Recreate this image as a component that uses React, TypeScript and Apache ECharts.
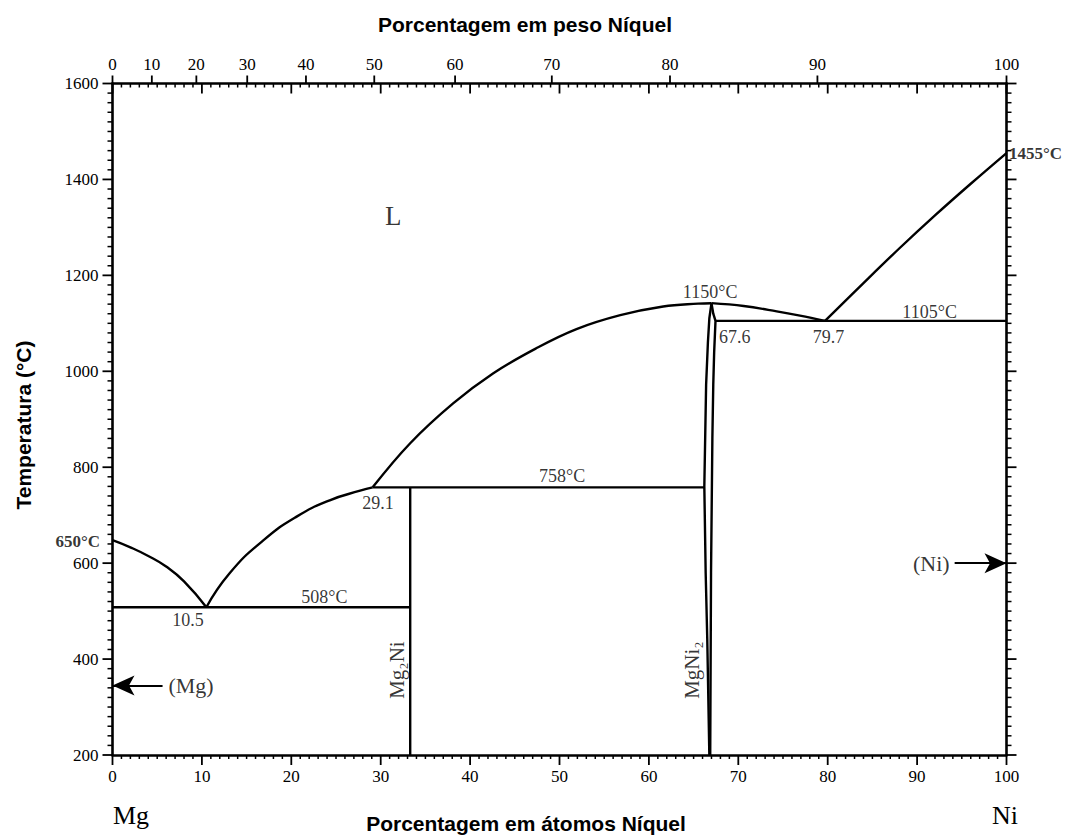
import React, { useEffect, useRef } from 'react';
import * as echarts from 'echarts';

// ---- Data (atomic % Ni, temperature °C) ----
const liquidusMg = [[0, 648], [2, 633], [4, 615], [6, 593], [8, 562], [10.5, 508]];
const liquidusMg2Ni = [[10.5, 508], [13.1, 579], [16.9, 648], [20.6, 697], [24.3, 731], [27.7, 751], [29.1, 758]];
const liquidusMgNi2Left = [[29.1, 758], [33.3, 850], [38.1, 933], [42.6, 996], [47.4, 1048], [51.9, 1088], [56.8, 1117], [61.6, 1135], [65.5, 1141], [67.0, 1142]];
const liquidusMgNi2Right = [[67.0, 1142], [70.6, 1136], [74.3, 1125], [76.9, 1116], [79.7, 1105]];
const liquidusNi = [[79.7, 1105], [84, 1184], [88, 1256], [92, 1325], [96, 1391], [100, 1455]];
const eutectic508 = [[0, 508], [33.3, 508]];
const eutectic758 = [[29.1, 758], [66.2, 758]];
const eutectic1105 = [[67.45, 1105], [100, 1105]];
const mg2niLine = [[33.3, 200], [33.3, 758]];
const mgni2Left = [[67.0, 1142], [66.76, 1110], [66.6, 1060], [66.4, 972], [66.2, 760], [66.35, 580], [66.53, 440], [66.76, 200]];
const mgni2Right = [[67.0, 1142], [67.2, 1120], [67.45, 1105], [67.3, 1040], [67.2, 972], [67.1, 860], [66.95, 580], [66.86, 200]];

// bottom axis: atomic % Ni; left axis: temperature
const atomicMajorTicks = [0, 10, 20, 30, 40, 50, 60, 70, 80, 90, 100];
const tempMajorTicks = [200, 400, 600, 800, 1000, 1200, 1400, 1600];

// top axis: weight % Ni labels, placed at their atomic % equivalents
const weightTickLabels = ['0', '10', '20', '30', '40', '50', '60', '70', '80', '90', '100'];
const weightTickAtPct = [0, 4.4, 9.38, 15.07, 21.64, 29.28, 38.32, 49.14, 62.36, 78.85, 100];

// in-plot annotations
const annotationTexts = ['L', '508°C', '10.5', '29.1', '758°C', '1150°C', '67.6', '79.7', '1105°C'];
const annotationX = [31.4, 23.7, 8.45, 29.7, 50.3, 66.85, 69.6, 80.1, 91.4];
const annotationT = [1324, 529, 482, 725, 782, 1165, 1072, 1072, 1124];

const phaseLabels = ['Mg₂Ni', 'MgNi₂'];
const phaseX = [31.8, 64.8];
const phaseT = [377, 377];

const SERIF = '"Liberation Serif", "DejaVu Serif", serif';
const SANS = '"Liberation Sans", Arial, sans-serif';

// tick kinds: [axisSide, direction, length]
// direction: pixel offset sign; side decides which edge.
const TICK_KINDS = [
  { side: 'bottom', len: 10, w: 1.8 }, // 0 bottom major (out)
  { side: 'bottom', len: 4, w: 1.5 },  // 1 bottom minor (out)
  { side: 'topIn', len: 10, w: 1.8 },  // 2 top major (in)
  { side: 'topIn', len: 4, w: 1.5 },   // 3 top minor (in)
  { side: 'topOut', len: 8, w: 1.8 },  // 4 top weight (out)
  { side: 'left', len: 10, w: 1.8 },   // 5 left major
  { side: 'left', len: 5, w: 1.5 },    // 6 left minor
  { side: 'right', len: 10, w: 1.8 },  // 7 right major
  { side: 'right', len: 5, w: 1.5 },   // 8 right minor
];

function buildTickData() {
  const d: number[][] = [];
  for (let i = 0; i <= 100; i++) {
    const major = atomicMajorTicks.indexOf(i) >= 0;
    d.push([i, major ? 0 : 1]);
    d.push([i, major ? 2 : 3]);
  }
  weightTickAtPct.forEach((v) => d.push([v, 4]));
  for (let t = 200; t <= 1600; t += 20) {
    const major = tempMajorTicks.indexOf(t) >= 0;
    d.push([t, major ? 5 : 6]);
    d.push([t, major ? 7 : 8]);
  }
  return d;
}

export default function App() {
  const ref = useRef<HTMLDivElement>(null);
  useEffect(() => {
    document.body.style.margin = '0';
    const chart = echarts.init(ref.current!, null, { renderer: 'svg' });

    const lineSeries = (data: number[][], smooth: number | boolean = false) => ({
      type: 'line',
      data,
      symbol: 'none',
      smooth,
      silent: true,
      xAxisIndex: 0,
      yAxisIndex: 0,
      lineStyle: { color: '#000', width: 2.4 },
      z: 5,
    });

    const axisLineStyle = { color: '#000', width: 2.6 };

    const annotationData = annotationTexts.map((t, i) => ({
      value: [annotationX[i], annotationT[i]],
      label: {
        show: true,
        position: 'inside',
        formatter: t,
        fontFamily: SERIF,
        fontSize: t === 'L' ? 27 : 18,
        color: '#000',
      },
    }));

    const phaseData = phaseLabels.map((t, i) => ({
      value: [phaseX[i], phaseT[i]],
      label: {
        show: true,
        position: 'inside',
        formatter: t,
        rotate: 90,
        fontFamily: SERIF,
        fontSize: 21,
        color: '#000',
      },
    }));

    const tickData = buildTickData();

    const option: any = {
      animation: false,
      backgroundColor: '#fff',
      grid: { left: 112.5, right: 69.5, top: 83.5, bottom: 82, containLabel: false },
      xAxis: [
        {
          type: 'value', position: 'bottom', min: 0, max: 100, interval: 10,
          axisLine: { show: true, onZero: false, lineStyle: axisLineStyle },
          axisTick: { show: false },
          splitLine: { show: false },
          axisLabel: { fontFamily: SERIF, fontSize: 17, color: '#000', margin: 13 },
        },
        {
          type: 'value', position: 'top', min: 0, max: 100,
          axisLine: { show: true, onZero: false, lineStyle: axisLineStyle },
          axisTick: { show: false },
          splitLine: { show: false },
          axisLabel: {
            show: true,
            customValues: weightTickAtPct,
            fontFamily: SERIF, fontSize: 17, color: '#000', margin: 11,
            formatter: (v: number) => {
              const i = weightTickAtPct.findIndex((p) => Math.abs(p - v) < 1e-6);
              return i >= 0 ? weightTickLabels[i] : '';
            },
          },
        },
      ],
      yAxis: [
        {
          type: 'value', position: 'left', min: 200, max: 1600, interval: 200,
          axisLine: { show: true, onZero: false, lineStyle: axisLineStyle },
          axisTick: { show: false },
          splitLine: { show: false },
          axisLabel: { fontFamily: SERIF, fontSize: 17, color: '#000', margin: 14, formatter: (v: number) => String(v) },
        },
        {
          type: 'value', position: 'right', min: 200, max: 1600, interval: 200,
          axisLine: { show: true, onZero: false, lineStyle: axisLineStyle },
          axisTick: { show: false },
          splitLine: { show: false },
          axisLabel: { show: false },
        },
      ],
      series: [
        lineSeries(liquidusMg, 0.5),
        lineSeries(liquidusMg2Ni, 0.5),
        lineSeries(liquidusMgNi2Left, 0.4),
        lineSeries(liquidusMgNi2Right, 0.4),
        lineSeries(liquidusNi, 0.4),
        lineSeries(eutectic508),
        lineSeries(eutectic758),
        lineSeries(eutectic1105),
        lineSeries(mg2niLine),
        lineSeries(mgni2Left),
        lineSeries(mgni2Right),
        {
          type: 'custom',
          coordinateSystem: 'cartesian2d',
          xAxisIndex: 0,
          yAxisIndex: 0,
          silent: true,
          clip: false,
          z: 4,
          data: tickData,
          encode: { x: -1, y: -1 },
          renderItem: (params: any, api: any) => {
            const v = api.value(0);
            const k = TICK_KINDS[api.value(1)];
            let x1 = 0, y1 = 0, x2 = 0, y2 = 0;
            if (k.side === 'bottom') {
              const p = api.coord([v, 200]);
              x1 = x2 = p[0]; y1 = p[1]; y2 = p[1] + k.len;
            } else if (k.side === 'topIn') {
              const p = api.coord([v, 1600]);
              x1 = x2 = p[0]; y1 = p[1]; y2 = p[1] + k.len;
            } else if (k.side === 'topOut') {
              const p = api.coord([v, 1600]);
              x1 = x2 = p[0]; y1 = p[1]; y2 = p[1] - k.len;
            } else if (k.side === 'left') {
              const p = api.coord([0, v]);
              y1 = y2 = p[1]; x1 = p[0]; x2 = p[0] - k.len;
            } else {
              const p = api.coord([100, v]);
              y1 = y2 = p[1]; x1 = p[0]; x2 = p[0] + k.len;
            }
            return {
              type: 'line',
              shape: { x1, y1, x2, y2 },
              style: { stroke: '#000', lineWidth: k.w },
            };
          },
        },
        {
          type: 'line',
          data: [],
          silent: true,
          markLine: {
            silent: true,
            symbol: ['none', 'arrow'],
            symbolSize: [15, 22],
            label: { show: false },
            lineStyle: { color: '#000', width: 2, type: 'solid' },
            data: [
              [{ coord: [5.6, 345] }, { coord: [0, 345] }],
              [{ coord: [94.2, 600] }, { coord: [100, 600] }],
            ],
          },
        },
        {
          type: 'scatter',
          symbolSize: 1,
          itemStyle: { color: 'rgba(0,0,0,0)' },
          silent: true,
          data: annotationData,
          z: 6,
        },
        {
          type: 'scatter',
          symbolSize: 1,
          itemStyle: { color: 'rgba(0,0,0,0)' },
          silent: true,
          data: phaseData,
          z: 6,
        },
        {
          type: 'scatter',
          symbolSize: 1,
          itemStyle: { color: 'rgba(0,0,0,0)' },
          silent: true,
          data: [
            { value: [6.2, 345], label: { show: true, position: 'right', distance: 0, formatter: '(Mg)', fontFamily: SERIF, fontSize: 22, color: '#000' } },
            { value: [93.7, 600], label: { show: true, position: 'left', distance: 0, formatter: '(Ni)', fontFamily: SERIF, fontSize: 22, color: '#000' } },
            { value: [0, 646], label: { show: true, position: 'left', distance: 12, formatter: '650°C', fontFamily: SERIF, fontWeight: 'bold', fontSize: 17, color: '#000' } },
            { value: [100, 1455], label: { show: true, position: 'right', distance: 2, formatter: '1455°C', fontFamily: SERIF, fontWeight: 'bold', fontSize: 17, color: '#000' } },
          ],
          z: 6,
        },
      ],
      graphic: [
        { type: 'text', x: 525, y: 24, style: { text: 'Porcentagem em peso Níquel', font: `bold 21px ${SANS}`, fill: '#000', align: 'center', verticalAlign: 'middle' } },
        { type: 'text', x: 526, y: 823, style: { text: 'Porcentagem em átomos Níquel', font: `bold 21px ${SANS}`, fill: '#000', align: 'center', verticalAlign: 'middle' } },
        { type: 'text', x: 23, y: 425, rotation: Math.PI / 2, style: { text: 'Temperatura (°C)', font: `bold 21px ${SANS}`, fill: '#000', align: 'center', verticalAlign: 'middle' } },
        { type: 'text', x: 131, y: 815, style: { text: 'Mg', font: `26px ${SERIF}`, fill: '#000', align: 'center', verticalAlign: 'middle' } },
        { type: 'text', x: 1005, y: 815, style: { text: 'Ni', font: `26px ${SERIF}`, fill: '#000', align: 'center', verticalAlign: 'middle' } },
      ],
    };

    chart.setOption(option);
    return () => chart.dispose();
  }, []);

  return <div ref={ref} style={{ width: 1076, height: 837 }} />;
}
